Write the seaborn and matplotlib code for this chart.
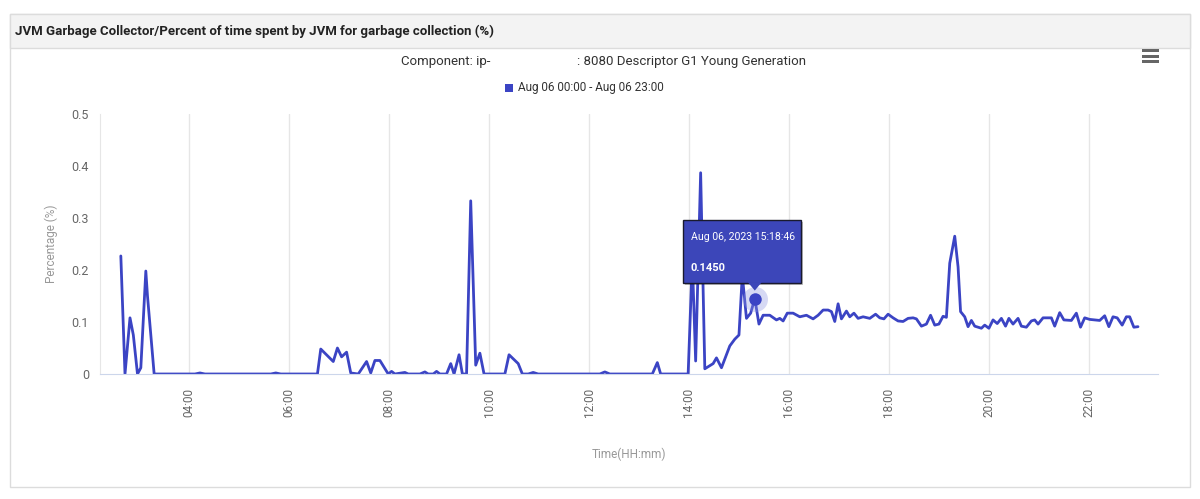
import pandas as pd
import numpy as np
import matplotlib
matplotlib.use("Agg")
import matplotlib.pyplot as plt
import matplotlib.dates as mdates
from matplotlib.patches import Rectangle, Polygon
import seaborn as sns

# data (Aug 06, time of day -> percent)
times = ["02:38", "02:43", "02:49", "02:53", "02:58", "03:02", "03:08", "03:10", "03:18",
         "04:07", "04:13", "04:19", "05:38", "05:44", "05:50",
         "06:34", "06:38", "06:53", "06:58", "07:03", "07:09", "07:14", "07:23", "07:33",
         "07:38", "07:43", "07:49", "07:59", "08:03", "08:07", "08:19", "08:23", "08:37",
         "08:43", "08:47", "08:53", "08:57", "09:01", "09:09", "09:14", "09:18", "09:24",
         "09:28", "09:33", "09:38", "09:44", "09:49", "09:54", "10:19", "10:24", "10:35",
         "10:40", "10:47", "10:53", "10:59", "12:13", "12:19", "12:25", "13:16", "13:22",
         "13:26", "13:59", "14:04", "14:08", "14:14", "14:19", "14:29", "14:33", "14:39",
         "14:49", "14:55", "15:00", "15:04", "15:09", "15:14", "15:19", "15:24", "15:29",
         "15:37", "15:45", "15:49", "15:53", "15:58", "16:05", "16:13", "16:21", "16:29",
         "16:35", "16:41", "16:47", "16:51", "16:55", "16:59", "17:03", "17:09", "17:13",
         "17:18", "17:23", "17:29", "17:37", "17:44", "17:49", "17:54", "17:59", "18:05",
         "18:11", "18:17", "18:23", "18:29", "18:33", "18:39", "18:45", "18:50", "18:55",
         "19:00", "19:05", "19:09", "19:13", "19:19", "19:23", "19:26", "19:31", "19:35",
         "19:39", "19:43", "19:51", "19:55", "20:00", "20:05", "20:10", "20:15", "20:20",
         "20:24", "20:29", "20:35", "20:39", "20:45", "20:51", "20:55", "20:59", "21:05",
         "21:15", "21:19", "21:25", "21:30", "21:39", "21:45", "21:50", "21:55", "22:01",
         "22:13", "22:19", "22:24", "22:29", "22:34", "22:40", "22:45", "22:49", "22:54",
         "22:59"]
pct = [0.227, 0.0, 0.108, 0.075, 0.0, 0.012, 0.198, 0.15, 0.0,
       0.0, 0.002, 0.0, 0.0, 0.002, 0.0,
       0.0, 0.048, 0.024, 0.050, 0.033, 0.042, 0.002, 0.0, 0.024,
       0.002, 0.026, 0.026, 0.0, 0.005, 0.0, 0.003, 0.0, 0.0,
       0.004, 0.0, 0.0, 0.005, 0.0, 0.0, 0.020, 0.0, 0.037,
       0.0, 0.0, 0.333, 0.017, 0.040, 0.0, 0.0, 0.037, 0.020,
       0.0, 0.0, 0.003, 0.0, 0.0, 0.004, 0.0, 0.0, 0.022,
       0.0, 0.0, 0.22, 0.025, 0.387, 0.010, 0.020, 0.031, 0.012,
       0.054, 0.067, 0.075, 0.19, 0.107, 0.117, 0.145, 0.096, 0.113,
       0.113, 0.104, 0.107, 0.102, 0.117, 0.117, 0.110, 0.113, 0.106,
       0.113, 0.123, 0.123, 0.120, 0.101, 0.135, 0.106, 0.121, 0.110,
       0.117, 0.107, 0.110, 0.107, 0.115, 0.108, 0.106, 0.115, 0.108,
       0.102, 0.101, 0.107, 0.108, 0.106, 0.092, 0.096, 0.113, 0.094,
       0.096, 0.111, 0.109, 0.213, 0.265, 0.206, 0.120, 0.110, 0.091,
       0.103, 0.092, 0.088, 0.094, 0.088, 0.104, 0.097, 0.107, 0.092,
       0.107, 0.096, 0.107, 0.092, 0.090, 0.102, 0.104, 0.096, 0.108,
       0.108, 0.092, 0.118, 0.104, 0.103, 0.117, 0.090, 0.108, 0.105,
       0.103, 0.112, 0.091, 0.110, 0.108, 0.094, 0.110, 0.110, 0.090,
       0.091]

x_start, x_end = "02:13", "23:23"
y_ticks = [0, 0.1, 0.2, 0.3, 0.4, 0.5]
y_labels = ["0", "0.1", "0.2", "0.3", "0.4", "0.5"]

hover_time = "15:19"
hover_value = 0.145
hover_label = "Aug 06, 2023 15:18:46"

title = "JVM Garbage Collector/Percent of time spent by JVM for garbage collection (%)"
sub_left = "Component: ip-"
sub_right = ": 8080 Descriptor G1 Young Generation"
series_name = "Aug 06 00:00 - Aug 06 23:00"

line_color = "#3b44c4"

sns.set_style("white")
plt.rcParams['font.family'] = ['Roboto', 'DejaVu Sans']

day = "2023-08-06 "
df = pd.DataFrame({"time": pd.to_datetime(day + pd.Series(times)), "pct": pct})

W, H = 1200, 499
fig = plt.figure(figsize=(12, 4.99), dpi=100)

def fx(px):
    return px / W

def fy(py):
    return 1 - py / H

# panel frame and header (behind the axes)
fig.patches.append(Rectangle((fx(10), fy(487)), fx(1180), 473 / H, transform=fig.transFigure,
                             facecolor="white", edgecolor="#dcdcdc", lw=1, zorder=-2))
fig.patches.append(Rectangle((fx(10), fy(48)), fx(1180), 34 / H, transform=fig.transFigure,
                             facecolor="#f3f3f3", edgecolor="#dcdcdc", lw=1, zorder=-1))
fig.text(fx(15), fy(31), title, fontsize=9.5, fontweight="bold", color="#222222",
         ha="left", va="center")

fig.text(fx(490), fy(61), sub_left, fontsize=9.5, color="#333333", ha="right", va="center")
fig.text(fx(577), fy(61), sub_right, fontsize=9.5, color="#333333", ha="left", va="center")

# legend
fig.patches.append(Rectangle((fx(505), fy(92)), fx(8), 8 / H, transform=fig.transFigure,
                             facecolor=line_color, edgecolor="none"))
fig.text(fx(518), fy(88), series_name, fontsize=8.5, color="#333333", ha="left", va="center")

# menu icon
for yy in [51, 56, 61]:
    fig.patches.append(Rectangle((fx(1142), fy(yy + 1.5)), fx(17), 3 / H, transform=fig.transFigure,
                                 facecolor="#666666", edgecolor="none"))

ax = fig.add_axes([fx(100), fy(374), fx(1058), 260 / H])
ax.set_facecolor("none")
sns.lineplot(data=df, x="time", y="pct", ax=ax, color=line_color, linewidth=2.0)

ax.set_xlim(pd.to_datetime(day + x_start), pd.to_datetime(day + x_end))
ax.set_ylim(0, 0.5)
ax.set_yticks(y_ticks)
ax.set_yticklabels(y_labels)
ax.xaxis.set_major_locator(mdates.HourLocator(byhour=range(0, 24, 2)))
ax.xaxis.set_major_formatter(mdates.DateFormatter("%H:%M"))
ax.tick_params(axis="x", labelrotation=90, length=0, pad=10, labelsize=8.5, labelcolor="#666666")
ax.tick_params(axis="y", length=0, pad=8, labelsize=9, labelcolor="#666666")
ax.grid(axis="x", color="#e6e6e6", lw=1)
ax.grid(axis="y", visible=False)
for s in ["top", "right"]:
    ax.spines[s].set_visible(False)
ax.spines["left"].set_color("#e6e6e6")
ax.spines["bottom"].set_color("#ccd6eb")
ax.set_xlabel("Time(HH:mm)", fontsize=8.5, color="#999999", labelpad=22)
ax.set_ylabel("Percentage (%)", fontsize=8.5, color="#999999", labelpad=10)

# hovered point and tooltip
ht = mdates.date2num(pd.to_datetime(day + hover_time))
ax.plot([ht], [hover_value], "o", ms=18, color="#8c92e0", alpha=0.35, mec="none", zorder=5)
ax.plot([ht], [hover_value], "o", ms=9, color=line_color, mec="none", zorder=6)

px, py = ax.transData.transform((ht, hover_value))
py = H - py  # pixel from top
bx0, bx1 = px - 72, px + 46
by0, by1 = py - 79, py - 16
fig.patches.append(Rectangle((fx(bx0 + 2), fy(by1 + 2)), fx(bx1 - bx0), (by1 - by0) / H,
                             transform=fig.transFigure, facecolor="#000000", alpha=0.25,
                             edgecolor="none", zorder=9))
fig.patches.append(Rectangle((fx(bx0), fy(by1)), fx(bx1 - bx0), (by1 - by0) / H,
                             transform=fig.transFigure, facecolor="#3c46b9", edgecolor="#1a1a2e",
                             lw=1, zorder=10))
fig.patches.append(Polygon([(fx(px - 7), fy(by1 - 0.5)), (fx(px + 7), fy(by1 - 0.5)), (fx(px), fy(py - 8))],
                           transform=fig.transFigure, facecolor="#3c46b9", edgecolor="none", zorder=11))
fig.text(fx(bx0 + 8), fy(by0 + 17), hover_label, fontsize=7.6, color="white", ha="left",
         va="center", zorder=12)
fig.text(fx(bx0 + 8), fy(by0 + 48), "%.4f" % hover_value, fontsize=8, fontweight="bold",
         color="white", ha="left", va="center", zorder=12)

fig.savefig("out.png", dpi=100)
